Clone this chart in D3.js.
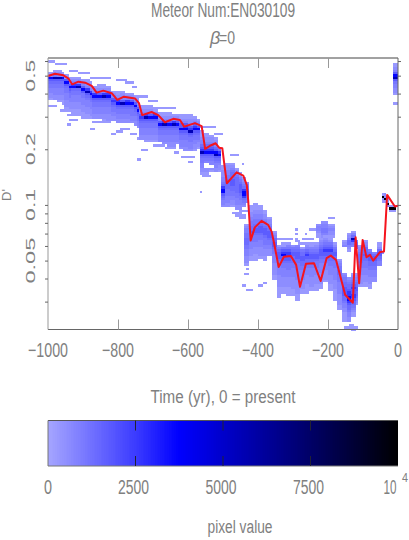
<!DOCTYPE html>
<html>
<head>
<meta charset="utf-8">
<script src="https://d3js.org/d3.v7.min.js"></script>
<style>
  html, body { margin: 0; padding: 0; background: #fff; }
  text { font-family: "Liberation Sans Narrow", "Liberation Sans", sans-serif; fill: #808080; }
</style>
</head>
<body>
<div id="chart"></div>
<script>
const xTicks = [-1000, -800, -600, -400, -200, 0];
const yMajor = [0.5, 0.2, 0.1, 0.05];
const yMinor = [0.6, 0.4, 0.3, 0.09, 0.08, 0.07, 0.06, 0.04, 0.03];
const barTicks = [0, 2500, 5000, 7500, 10000];

// red curve
const lineYears = [-1000, -980, -956, -942, -931, -913, -894, -875, -861, -842, -818, -802, -783, -751, -740, -731, -704, -685, -666, -642, -623, -611, -580, -561, -551, -537, -521, -511, -502, -496, -489, -461, -442, -432, -428, -421, -409, -390, -371, -361, -354, -341, -326, -306, -291, -280, -263, -240, -221, -204, -192, -177, -151, -129, -121, -111, -101, -90, -80, -71, -51, -40, -31, -9, 0];
const lineD = [.498, .5125, .502, .484, .449, .464, .458, .44, .405, .415, .402, .37, .385, .376, .355, .306, .318, .306, .28, .292, .288, .265, .277, .267, .201, .209, .2155, .204, .2026, .1645, .131, .15, .144, .128, .106, .0643, .0756, .082, .078, .0717, .0621, .0462, .0524, .053, .0474, .0361, .048, .0484, .0388, .0515, .0532, .0504, .0327, .0296, .0669, .0377, .0647, .0521, .0537, .05, .0557, .056, .1133, .098, .099];

// pixel value for each shade letter used in heatColumns
const levelValues = { 1: 250, 2: 550, 3: 800, 4: 1050, 5: 1300, 6: 1700, 7: 2500, 8: 3600, 9: 5500, x: 9800 };

// lone cells: first col, last col, row
const strayRuns = [
  [0,2,1],[3,7,2],[9,12,5],[13,17,6],[18,20,8],[21,26,8],[29,33,9],[33,36,10],[36,37,12],
  [38,42,16],[43,46,18],[47,54,21],[64,71,29],[71,74,32],
  [0,3,20],[5,8,22],[8,9,24],[9,12,26],[13,14,24],[8,9,28],[16,18,25],[18,19,30],[19,25,27],
  [27,28,32],[29,31,31],[31,34,30],[35,37,32],[38,42,34],[40,42,39],[38,39,43],[43,45,35],
  [45,49,37],[50,53,38],[54,55,40],[57,62,42],[60,61,44],
  [78,81,41],[83,83,45],[66,69,50],[73,73,48],[65,65,57],[79,82,66],[82,84,68],[83,85,65],[87,88,63],
  [80,84,67],[85,86,72],[83,84,97],[85,87,99],[90,91,97],[92,93,96],[85,85,88],[85,85,90],[84,85,92],
  [106,106,73],[106,106,75],[106,106,77],[109,113,77],[98,104,77],[120,122,68],[112,114,73],
  [107,114,79],[110,110,75],[100,102,90],
  [127,132,115],[130,131,116],[129,130,114],[148,149,19]
];

// density columns: first col, last col, first row, shades going down ('.' = empty)
const heatColumns = [
  [115,116,71,"233211"],[117,119,70,"2334432"],[120,122,71,"123221"],
  [126,127,78,"123"],[128,129,75,"12355321"],[130,131,74,"1359743"],[132,132,78,"3565"],
  [0,1,6,"138654433221"],[2,3,5,"1249654433322"],[4,5,5,"12396544333221"],[6,6,6,"13865443332211"],[7,8,7,"1268654433322211"],
  [9,9,8,"113686544332221"],[10,11,8,"12378544333222111"],[12,13,8,"12379544333222111"],[14,15,9,"12368644333222111"],[16,17,9,"1123796543332221"],[18,18,10,"112378654333222"],
  [19,20,12,"12378654433322"],[21,22,11,"112368654433322"],[23,24,11,"1123796544333221"],[25,26,12,"1237865443332221"],
  [27,28,14,"1236765443322"],[29,30,14,"11237865443322"],[31,32,14,"12236965443322"],[33,34,15,"1237865443322"],[35,36,15,"1236865444332"],[37,37,16,"1236865443322"],[38,38,17,"1123686544332"],
  [39,40,20,"112367654433322"],[41,42,20,"1123796544333221"],[43,44,20,"1123686544333221"],[45,46,21,"113786544333221"],
  [47,48,23,"1123686544333"],[49,50,23,"11237965443332"],[51,52,23,"112368654433322"],[53,54,24,"123796544333221"],[55,55,24,"1236865443332"],
  [56,57,24,"112366865443332"],[58,59,24,"1123678654433322"],[60,61,24,"1122367965443332"],[62,63,25,"123678654433221"],[64,64,26,"1236865443221"],
  [65,66,31,"1112335679654433221"],[67,68,32,"1122356786543..2211"],[69,70,33,"1223567865433.21"],[71,72,34,"122356896543322"],[73,73,38,"3478654322"],
  [74,75,46,"112223345788654332"],[76,77,45,"1223344555544433322"],[78,79,45,"1234555666554433221"],[80,81,47,"123455555554433322"],[82,82,49,"12345666654433221"],[83,84,51,"1234578875432"],[85,85,53,"234566543"],
  [84,85,71,"123344555443332221"],[86,87,63,"111223344556544433322211"],[88,89,62,"1112233445566544433222111"],[90,91,63,"11223344566654433322221"],[92,93,65,"1122344566654443322211"],[94,95,68,"12234566654433222"],[96,97,74,"123556654433332222211"],
  [98,99,80,"13566654433332222211111"],[100,101,79,"1146786654433332222111"],[102,103,79,"13467766544433322221111"],[104,105,80,"2456655544333322222111"],[106,107,78,"1.345666554443333222222111"],
  [108,109,81,"14556655443333222211"],[110,111,80,"235676554433322221111"],[112,113,80,"13456655443333222211"],[114,115,79,"123456654443332222111"],[116,117,77,"1234566654433332222211"],[118,119,76,"12345676654433322221"],
  [120,121,77,"12456766554433332222111"],[122,123,79,"1245665544433333222211111"],[124,125,86,"1234455444333332222211"],[126,127,92,"234455666655433221111"],[128,129,94,"2345567788765543322"],[130,131,92,"1234567667765543211"],[132,132,92,"12345566554321"],
  [133,134,80,"123455554433322221"],[135,136,78,"12355565544433322211"],[137,138,82,"35666554433322211"],[139,140,83,"3566554433322"],[141,142,79,"1125665433"],[143,143,83,"2"],
  [143,143,58,"1x21"],[144,144,58,"22x1"],[145,145,60,"11x3"],[146,148,63,"1x1"],
  [148,149,2,"11236896433221"]
];

const colCount = 150;
const rowCount = 116.4;

const svg = d3.select('#chart').append('svg')
  .attr('width', 409)
  .attr('height', 540)
  .style('display', 'block');

const x = d3.scaleLinear().domain([-1000, 0]).range([48, 398]);
const y = d3.scaleLog().domain([0.0212, 0.623]).range([329.5, 58]);

// heatmap grid: column -> year, row -> D'
const colYear = d3.scaleLinear().domain([0, colCount]).range([-1000, 0]);
const rowD = d3.scaleLog().domain([0.623, 0.0212]).range([0, rowCount]);

const color = d3.scaleLinear()
  .domain([0, 2500, 3700, 10000])
  .range(['#a4a4ff', '#3a3aff', '#0000ff', '#000000']);

let cells = [];
strayRuns.forEach(r => {
  d3.range(r[0], r[1] + 1).forEach(c => {
    cells.push({ c: c, row: r[2], v: levelValues[1] });
  });
});
heatColumns.forEach(h => {
  d3.range(h[0], h[1] + 1).forEach(c => {
    h[3].split('').forEach((s, i) => {
      if (s !== '.') cells.push({ c: c, row: h[2] + i, v: levelValues[s] });
    });
  });
});

svg.append('g').attr('id', 'heat')
  .attr('shape-rendering', 'crispEdges')
  .selectAll('rect')
  .data(cells)
  .enter()
  .append('rect')
  .attr('x', d => x(colYear(d.c)))
  .attr('y', d => y(rowD.invert(d.row)))
  .attr('width', d => x(colYear(d.c + 1)) - x(colYear(d.c)))
  .attr('height', d => y(rowD.invert(d.row + 1)) - y(rowD.invert(d.row)))
  .attr('fill', d => color(d.v));

const line = d3.line()
  .x((d, i) => x(lineYears[i]))
  .y(d => y(d));

svg.append('path')
  .datum(lineD)
  .attr('d', line)
  .attr('fill', 'none')
  .attr('stroke', '#f5141e')
  .attr('stroke-width', 2)
  .attr('stroke-linejoin', 'round');

// frame
const axisColor = '#666';
svg.append('line').attr('x1', 48).attr('x2', 398).attr('y1', 58).attr('y2', 58).attr('stroke', '#444');
svg.append('line').attr('x1', 48).attr('x2', 398).attr('y1', 329.5).attr('y2', 329.5).attr('stroke', axisColor);
svg.append('line').attr('x1', 48).attr('x2', 48).attr('y1', 58).attr('y2', 329.5).attr('stroke', '#999');
svg.append('line').attr('x1', 398).attr('x2', 398).attr('y1', 58).attr('y2', 329.5).attr('stroke', axisColor);

// x axis ticks point inward, top and bottom
const xAxisBottom = d3.axisBottom(x).tickValues(xTicks.slice(1, 5)).tickSize(-10).tickFormat('');
const xAxisTop = d3.axisTop(x).tickValues(xTicks.slice(1, 5)).tickSize(-10).tickFormat('');
[[xAxisBottom, 329.5], [xAxisTop, 58]].forEach(a => {
  const g = svg.append('g').attr('transform', 'translate(0,' + a[1] + ')').call(a[0]);
  g.select('.domain').remove();
  g.selectAll('line').attr('stroke', '#999');
});

function label(txt, cx, base, size, len) {
  return svg.append('text')
    .attr('x', cx)
    .attr('y', base)
    .attr('text-anchor', 'middle')
    .attr('font-size', size)
    .attr('textLength', len)
    .attr('lengthAdjust', 'spacingAndGlyphs')
    .text(txt);
}

xTicks.forEach(t => {
  const txt = t < 0 ? '\u2212' + Math.abs(t) : String(t);
  label(txt, x(t), 357, 20, txt.length === 5 ? 40 : txt.length === 4 ? 32 : 8);
});

// y axis ticks point outward, left and right
const yAll = yMajor.concat(yMinor);
[[d3.axisLeft(y), 48], [d3.axisRight(y), 398]].forEach(a => {
  const g = svg.append('g').attr('transform', 'translate(' + a[1] + ',0)')
    .call(a[0].tickValues(yAll).tickSize(3).tickFormat(''));
  g.select('.domain').remove();
  g.selectAll('line').attr('stroke', axisColor);
});

yMajor.forEach(t => {
  const txt = String(t);
  svg.append('text')
    .attr('transform', 'translate(35,' + y(t) + ') rotate(-90)')
    .attr('text-anchor', 'middle')
    .attr('font-size', 13)
    .attr('textLength', txt.length === 3 ? 32 : 46)
    .attr('lengthAdjust', 'spacingAndGlyphs')
    .text(txt);
});

svg.append('text')
  .attr('transform', 'translate(11,195) rotate(-90)')
  .attr('text-anchor', 'middle')
  .attr('font-size', 13)
  .text("D'");

label('Meteor Num:EN030109', 223, 17, 20, 144);
svg.append('text').attr('x', 210).attr('y', 44).attr('font-size', 18).attr('font-style', 'italic').text('\u03b2');
svg.append('text').attr('x', 219).attr('y', 44).attr('font-size', 18).attr('textLength', 16).attr('lengthAdjust', 'spacingAndGlyphs').text('=0');
label('Time (yr), 0 = present', 223, 403, 18, 145);
label('pixel value', 240, 533, 18, 65);

// colour bar
const barX = d3.scaleLinear().domain([0, 10000]).range([48, 398]);
const barTop = 420.5, barBottom = 466;
svg.append('g').attr('id', 'bar')
  .attr('shape-rendering', 'crispEdges')
  .selectAll('rect')
  .data(d3.range(0, 10000, 50))
  .enter()
  .append('rect')
  .attr('x', d => barX(d))
  .attr('y', barTop)
  .attr('width', d => barX(d + 50) - barX(d))
  .attr('height', barBottom - barTop)
  .attr('fill', d => color(d));

svg.append('line').attr('x1', 48).attr('x2', 398).attr('y1', barTop).attr('y2', barTop).attr('stroke', '#555');
svg.append('line').attr('x1', 48).attr('x2', 398).attr('y1', barBottom).attr('y2', barBottom).attr('stroke', '#777');
svg.append('line').attr('x1', 48).attr('x2', 48).attr('y1', barTop).attr('y2', barBottom).attr('stroke', '#777');

barTicks.slice(1, 4).forEach(t => {
  svg.append('line').attr('x1', barX(t)).attr('x2', barX(t)).attr('y1', barTop).attr('y2', barTop + 10).attr('stroke', '#223');
  svg.append('line').attr('x1', barX(t)).attr('x2', barX(t)).attr('y1', barBottom - 10).attr('y2', barBottom).attr('stroke', '#223');
});

barTicks.slice(0, 4).forEach(t => {
  label(String(t), barX(t) + (t === 0 ? 0 : -2), 494, 20, t === 0 ? 8 : 31);
});
label('10', 390, 494, 20, 13);
svg.append('text').attr('x', 402).attr('y', 482).attr('font-size', 12).attr('textLength', 6).attr('lengthAdjust', 'spacingAndGlyphs').text('4');
</script>
</body>
</html>
